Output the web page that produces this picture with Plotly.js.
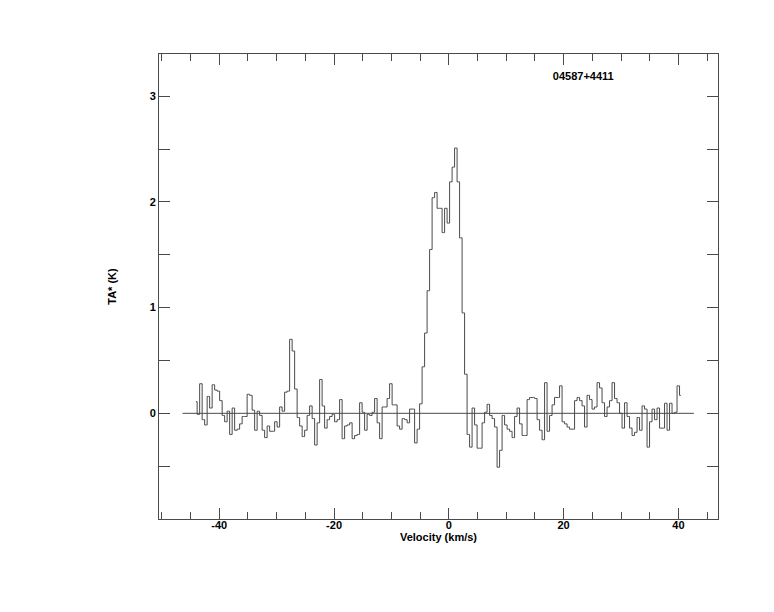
<!DOCTYPE html>
<html>
<head>
<meta charset="utf-8">
<script src="https://cdn.plot.ly/plotly-3.0.1.min.js"></script>
<style>html,body{margin:0;padding:0;background:#fff;}#chart{width:774px;height:612px;}</style>
</head>
<body>
<div id="chart"></div>
<script>
// Spectrum of 04587+4411: antenna temperature per velocity channel
const sourceName = "04587+4411";
const channelStart = -44.07;   // km/s, centre of first channel
const channelWidth = 0.4355;   // km/s
const ta = [
  0.11, -0.01, 0.28, -0.06, -0.11, 0.16, 0.05, 0.27, 0.22, 0.21,
  0.12, -0.02, -0.08, 0.02, -0.20, 0.05, -0.16, -0.15, -0.10, -0.03,
  -0.03, 0.18, 0.17, 0.03, -0.16, 0.02, -0.02, -0.16, -0.23, -0.12,
  -0.17, -0.17, -0.08, -0.13, 0.06, 0.02, 0.20, 0.21, 0.70, 0.59,
  0.23, -0.04, -0.12, -0.22, -0.16, -0.02, 0.07, -0.05, -0.30, -0.09,
  0.32, 0.07, -0.14, -0.06, -0.03, -0.01, -0.08, -0.06, 0.13, -0.24,
  -0.12, -0.11, -0.09, -0.24, -0.21, -0.20, 0.10, 0.01, -0.16, -0.01,
  -0.02, 0.01, 0.14, -0.09, -0.24, 0.06, 0.06, 0.14, 0.28, 0.08,
  0.08, -0.12, -0.15, -0.05, -0.06, -0.09, 0.04, 0.04, -0.28, -0.15,
  0.09, 0.44, 0.76, 1.16, 1.55, 2.04, 2.09, 1.94, 1.94, 1.71,
  1.94, 1.80, 2.19, 2.33, 2.51, 2.19, 1.66, 0.95, 0.37, -0.20,
  -0.32, 0.05, -0.11, -0.33, -0.33, -0.09, 0.01, 0.085, -0.02, -0.05,
  -0.13, -0.51, -0.35, -0.02, -0.11, -0.15, -0.17, -0.23, -0.03, 0.05,
  -0.10, -0.21, -0.21, 0.13, 0.15, 0.15, 0.14, -0.06, -0.16, -0.25,
  0.29, -0.17, -0.02, 0.08, 0.15, 0.15, 0.26, -0.08, -0.10, -0.13,
  -0.15, -0.15, 0.12, 0.15, 0.12, 0.07, -0.13, 0.17, 0.13, 0.04,
  0.06, 0.29, 0.24, 0.10, -0.03, 0.06, 0.12, 0.29, 0.14, 0.10,
  0.00, -0.14, 0.10, -0.03, -0.14, -0.21, -0.18, -0.04, -0.16, 0.07,
  0.04, -0.32, -0.08, 0.04, -0.06, 0.05, -0.14, -0.14, 0.095, -0.16,
  0.095, 0.00, 0.01, 0.26, 0.17
];
const baselineX = [-46.4, 42.7];
const baselineY = [0, 0];
const xTickVals = [-40, -20, 0, 20, 40];
const xTickText = ["-40", "-20", "0", "20", "40"];
const yTickVals = [0, 1, 2, 3];
const yTickText = ["0", "1", "2", "3"];

const velocity = ta.map((_, i) => channelStart + i * channelWidth);

const fontFam = "Liberation Sans, Arial, Helvetica, sans-serif";
const lineCol = "#4a4a4a";

const traces = [
  {x: baselineX, y: baselineY, type: "scatter", mode: "lines",
   line: {color: lineCol, width: 1}, hoverinfo: "skip", showlegend: false},
  {x: velocity, y: ta, type: "scatter", mode: "lines",
   line: {color: lineCol, width: 1, shape: "hvh"}, showlegend: false}
];

const layout = {
  width: 774, height: 612,
  margin: {l: 159, r: 56, t: 54, b: 93},
  paper_bgcolor: "#fff", plot_bgcolor: "#fff",
  font: {family: fontFam, size: 11, color: "#000", weight: "bold"},
  title: {text: sourceName, x: 587.5/774, xanchor: "center", xref: "paper",
          y: 1 - 76/612, yanchor: "middle",
          font: {family: fontFam, size: 11, color: "#000", weight: "bold"}},
  xaxis: {
    range: [-50.5, 46.9], showgrid: false, zeroline: false,
    showline: true, linecolor: lineCol, linewidth: 1, mirror: "ticks",
    tickmode: "array", tickvals: xTickVals, ticktext: xTickText,
    ticks: "inside", ticklen: 11, tickcolor: lineCol, tickwidth: 1,
    ticklabelstandoff: -4,
    minor: {dtick: 5, tick0: 0, ticks: "inside", ticklen: 7, tickcolor: lineCol, tickwidth: 1, showgrid: false},
    tickfont: {family: fontFam, size: 11, color: "#000", weight: "bold"},
    title: {text: "Velocity (km/s)", standoff: 2,
            font: {family: fontFam, size: 11, color: "#000", weight: "bold"}}
  },
  yaxis: {
    range: [-1, 3.4], showgrid: false, zeroline: false,
    showline: true, linecolor: lineCol, linewidth: 1, mirror: "ticks",
    tickmode: "array", tickvals: yTickVals, ticktext: yTickText,
    ticks: "inside", ticklen: 11, tickcolor: lineCol, tickwidth: 1,
    minor: {dtick: 0.5, tick0: 0, ticks: "inside", ticklen: 11, tickcolor: lineCol, tickwidth: 1, showgrid: false},
    tickfont: {family: fontFam, size: 11, color: "#000", weight: "bold"},
    title: {text: "TA* (K)", standoff: 30,
            font: {family: fontFam, size: 11, color: "#000", weight: "bold"}}
  }
};

Plotly.newPlot("chart", traces, layout, {displayModeBar: false, staticPlot: true});
</script>
</body>
</html>
